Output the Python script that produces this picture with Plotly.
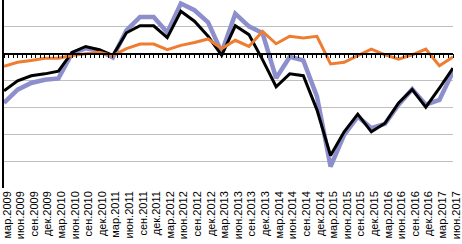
import plotly.graph_objects as go

months = ["мар", "июн", "сен", "дек"]
labels = []
for yr in range(2009, 2018):
    for m in months:
        labels.append(f"{m}.{yr}")
labels = labels[: 34]

series_blue = [-18.3, -13.4, -10.9, -9.7, -9.2, 0.2, 2.0, 1.2, -1.4, 8.7,
               13.7, 13.7, 7.9, 18.7, 16.2, 11.7, 0.5, 14.9, 10.2, 7.7,
               -9.1, -1.2, -2.5, -15.9, -42.0, -30.2, -23.4, -27.7, -26.1, -19.0,
               -13.2, -19.0, -17.2, -6.6]
series_black = [-13.8, -10.1, -8.2, -7.5, -6.5, 0.5, 2.7, 1.5, -0.6, 7.8,
                10.4, 10.4, 6.0, 15.8, 12.1, 6.5, -0.6, 10.4, 7.1, -2.2,
                -12.3, -7.5, -8.2, -20.9, -37.9, -29.1, -22.5, -29.1, -25.9, -18.3,
                -13.3, -19.9, -12.8, -5.4]
series_orange = [-4.7, -3.2, -2.5, -1.7, -1.7, -0.7, 0.0, 0.5, -0.7, 1.9,
                 3.6, 3.6, 1.5, 3.1, 4.2, 5.5, 1.9, 5.0, 2.7, 8.3,
                 3.7, 6.5, 5.9, 6.5, -3.8, -3.2, -0.7, 1.7, -0.4, -2.0,
                 -0.4, 1.7, -4.5, -1.2]

x = list(range(len(labels)))
n = len(labels) - 1
ymin, ymax = -50, 20

fig = go.Figure()
fig.add_trace(go.Scatter(x=x, y=series_blue, mode="lines",
                         line=dict(color="#8c8fcc", width=4.5), showlegend=False))
fig.add_trace(go.Scatter(x=x, y=series_orange, mode="lines", xaxis="x2",
                         line=dict(color="#ee7d31", width=3), showlegend=False))
fig.add_trace(go.Scatter(x=x, y=series_black, mode="lines",
                         line=dict(color="#000000", width=3), showlegend=False))

fig.update_layout(
    width=462, height=244,
    margin=dict(l=4, r=9, t=0, b=56, autoexpand=False),
    paper_bgcolor="white", plot_bgcolor="white",
    font=dict(family="Liberation Sans, Arial, sans-serif", color="#000000"),
    xaxis=dict(range=[0, n], tickmode="array", tickvals=x, ticktext=labels,
               tickangle=-90, tickfont=dict(size=11), showgrid=False,
               zeroline=False, showline=False, ticks="", automargin=False,
               ticklabelshift=3, ticklabeloverflow="allow"),
    xaxis2=dict(range=[0, n], overlaying="x", anchor="free",
                position=(0 - ymin) / (ymax - ymin), side="bottom",
                showline=True, linecolor="#000000", linewidth=1.5,
                ticks="outside", ticklen=4, tickcolor="#000000", tickwidth=1,
                tick0=0, dtick=1 / 3, showticklabels=False, showgrid=False,
                zeroline=False, automargin=False),
    yaxis=dict(range=[ymin, ymax], dtick=10, showticklabels=False,
               showgrid=True, gridcolor="#c0c0c0", gridwidth=1,
               zeroline=False, showline=True, linecolor="#000000",
               linewidth=1.5, ticks="", automargin=False),
)

fig.write_html("out.html", config={"displayModeBar": False},
               post_script="document.body.style.margin='0';"
                           "document.body.style.overflow='hidden';")
